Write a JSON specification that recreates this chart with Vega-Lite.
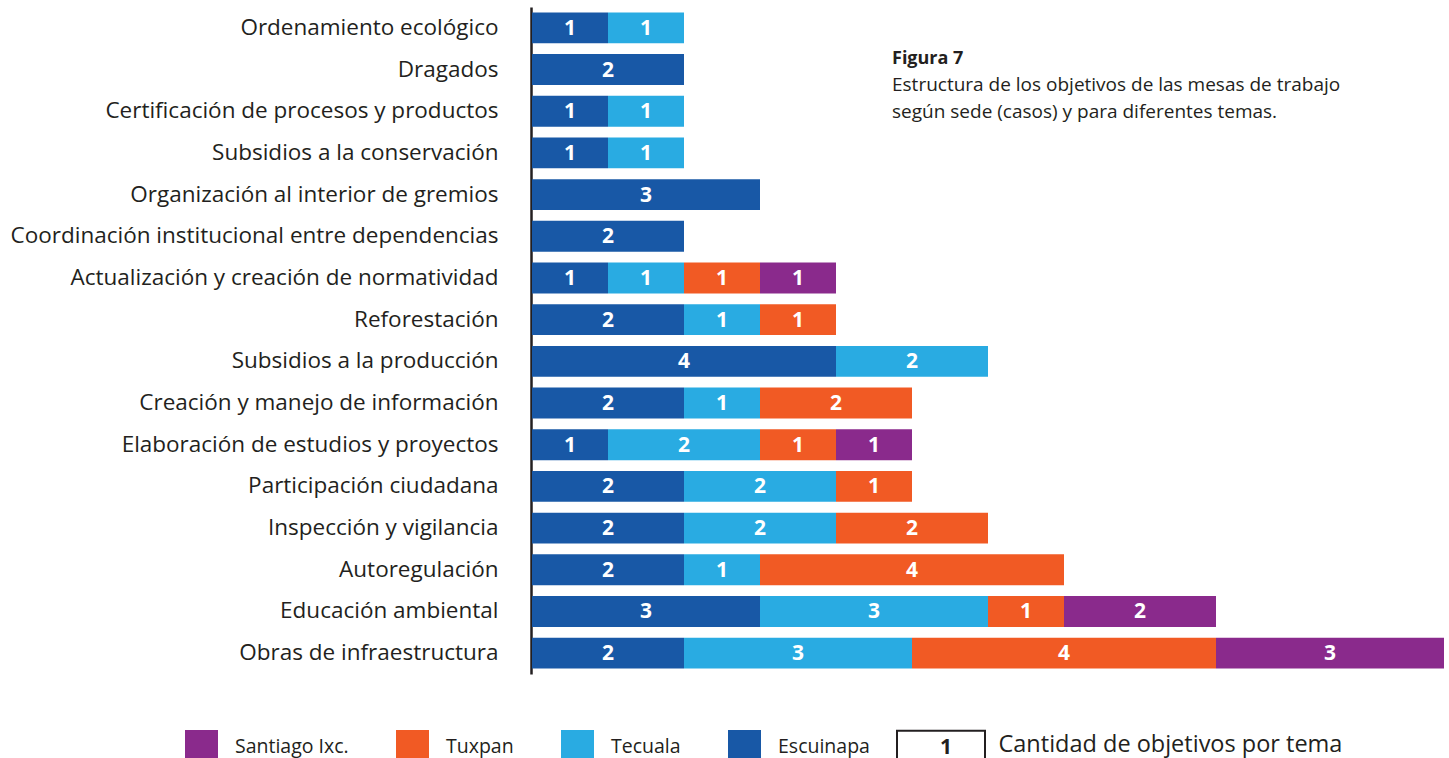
{
  "$schema": "https://vega.github.io/schema/vega-lite/v6.json",
  "width": 912,
  "height": 667,
  "autosize": "none",
  "padding": {"left": 532, "top": 7, "right": 5, "bottom": 84},
  "background": "white",
  "config": {"view": {"stroke": null}, "font": "Open Sans"},
  "title": {
    "text": "Figura 7",
    "subtitle": ["Estructura de los objetivos de las mesas de trabajo", "según sede (casos) y para diferentes temas."],
    "anchor": "start",
    "frame": "group",
    "orient": "top",
    "dx": 360,
    "dy": 119,
    "font": "Open Sans",
    "fontSize": 18,
    "fontWeight": "bold",
    "color": "#231f20",
    "subtitleFont": "Open Sans",
    "subtitleFontSize": 19,
    "subtitleColor": "#231f20",
    "subtitleLineHeight": 27,
    "subtitlePadding": 8
  },
  "layer": [
    {
      "data": {
        "values": [
          {"tema": "Ordenamiento ecológico", "sede": "Escuinapa", "orden": 1, "casos": 1},
          {"tema": "Ordenamiento ecológico", "sede": "Tecuala", "orden": 2, "casos": 1},
          {"tema": "Dragados", "sede": "Escuinapa", "orden": 1, "casos": 2},
          {"tema": "Certificación de procesos y productos", "sede": "Escuinapa", "orden": 1, "casos": 1},
          {"tema": "Certificación de procesos y productos", "sede": "Tecuala", "orden": 2, "casos": 1},
          {"tema": "Subsidios a la conservación", "sede": "Escuinapa", "orden": 1, "casos": 1},
          {"tema": "Subsidios a la conservación", "sede": "Tecuala", "orden": 2, "casos": 1},
          {"tema": "Organización al interior de gremios", "sede": "Escuinapa", "orden": 1, "casos": 3},
          {"tema": "Coordinación institucional entre dependencias", "sede": "Escuinapa", "orden": 1, "casos": 2},
          {"tema": "Actualización y creación de normatividad", "sede": "Escuinapa", "orden": 1, "casos": 1},
          {"tema": "Actualización y creación de normatividad", "sede": "Tecuala", "orden": 2, "casos": 1},
          {"tema": "Actualización y creación de normatividad", "sede": "Tuxpan", "orden": 3, "casos": 1},
          {"tema": "Actualización y creación de normatividad", "sede": "Santiago Ixc.", "orden": 4, "casos": 1},
          {"tema": "Reforestación", "sede": "Escuinapa", "orden": 1, "casos": 2},
          {"tema": "Reforestación", "sede": "Tecuala", "orden": 2, "casos": 1},
          {"tema": "Reforestación", "sede": "Tuxpan", "orden": 3, "casos": 1},
          {"tema": "Subsidios a la producción", "sede": "Escuinapa", "orden": 1, "casos": 4},
          {"tema": "Subsidios a la producción", "sede": "Tecuala", "orden": 2, "casos": 2},
          {"tema": "Creación y manejo de información", "sede": "Escuinapa", "orden": 1, "casos": 2},
          {"tema": "Creación y manejo de información", "sede": "Tecuala", "orden": 2, "casos": 1},
          {"tema": "Creación y manejo de información", "sede": "Tuxpan", "orden": 3, "casos": 2},
          {"tema": "Elaboración de estudios y proyectos", "sede": "Escuinapa", "orden": 1, "casos": 1},
          {"tema": "Elaboración de estudios y proyectos", "sede": "Tecuala", "orden": 2, "casos": 2},
          {"tema": "Elaboración de estudios y proyectos", "sede": "Tuxpan", "orden": 3, "casos": 1},
          {"tema": "Elaboración de estudios y proyectos", "sede": "Santiago Ixc.", "orden": 4, "casos": 1},
          {"tema": "Participación ciudadana", "sede": "Escuinapa", "orden": 1, "casos": 2},
          {"tema": "Participación ciudadana", "sede": "Tecuala", "orden": 2, "casos": 2},
          {"tema": "Participación ciudadana", "sede": "Tuxpan", "orden": 3, "casos": 1},
          {"tema": "Inspección y vigilancia", "sede": "Escuinapa", "orden": 1, "casos": 2},
          {"tema": "Inspección y vigilancia", "sede": "Tecuala", "orden": 2, "casos": 2},
          {"tema": "Inspección y vigilancia", "sede": "Tuxpan", "orden": 3, "casos": 2},
          {"tema": "Autoregulación", "sede": "Escuinapa", "orden": 1, "casos": 2},
          {"tema": "Autoregulación", "sede": "Tecuala", "orden": 2, "casos": 1},
          {"tema": "Autoregulación", "sede": "Tuxpan", "orden": 3, "casos": 4},
          {"tema": "Educación ambiental", "sede": "Escuinapa", "orden": 1, "casos": 3},
          {"tema": "Educación ambiental", "sede": "Tecuala", "orden": 2, "casos": 3},
          {"tema": "Educación ambiental", "sede": "Tuxpan", "orden": 3, "casos": 1},
          {"tema": "Educación ambiental", "sede": "Santiago Ixc.", "orden": 4, "casos": 2},
          {"tema": "Obras de infraestructura", "sede": "Escuinapa", "orden": 1, "casos": 2},
          {"tema": "Obras de infraestructura", "sede": "Tecuala", "orden": 2, "casos": 3},
          {"tema": "Obras de infraestructura", "sede": "Tuxpan", "orden": 3, "casos": 4},
          {"tema": "Obras de infraestructura", "sede": "Santiago Ixc.", "orden": 4, "casos": 3}
        ]
      },
      "layer": [
        {
          "mark": {"type": "bar"},
          "encoding": {
            "y": {
              "field": "tema", "type": "nominal", "sort": null,
              "scale": {"paddingInner": 0.26, "paddingOuter": 0.13},
              "axis": {
                "title": null, "ticks": false, "domainColor": "#231f20", "domainWidth": 2.5,
                "offset": 1, "labelPadding": 33, "labelFontSize": 22.5, "labelFont": "Open Sans",
                "labelColor": "#231f20", "labelLimit": 700
              }
            },
            "x": {"field": "casos", "type": "quantitative", "stack": "zero", "scale": {"domain": [0, 12]}, "axis": null},
            "color": {
              "field": "sede", "type": "nominal",
              "scale": {"domain": ["Santiago Ixc.", "Tuxpan", "Tecuala", "Escuinapa"], "range": ["#8A2A8C", "#F15A24", "#29ABE2", "#1858A6"]},
              "legend": {
                "orient": "none", "legendX": -347, "legendY": 723, "direction": "horizontal", "title": null,
                "symbolType": "square", "symbolSize": 1089, "symbolStrokeWidth": 0, "labelOffset": 17,
                "labelFontSize": 19.5, "labelFont": "Open Sans", "labelColor": "#231f20", "columnPadding": 47, "padding": 0
              }
            },
            "order": {"field": "orden", "type": "quantitative"}
          }
        },
        {
          "mark": {"type": "text", "color": "white", "fontWeight": "bold", "fontSize": 21, "font": "Open Sans", "baseline": "middle", "dy": 1},
          "encoding": {
            "y": {"field": "tema", "type": "nominal", "sort": null},
            "x": {"field": "casos", "type": "quantitative", "stack": "zero", "bandPosition": 0.5},
            "detail": {"field": "sede"},
            "order": {"field": "orden", "type": "quantitative"},
            "text": {"field": "casos", "type": "quantitative"}
          }
        }
      ]
    },
    {
      "data": {"values": [{"caja": "1", "nota": "Cantidad de objetivos por tema"}]},
      "mark": {"type": "point", "size": 0, "filled": false, "fill": "white", "strokeWidth": 2},
      "encoding": {
        "stroke": {
          "field": "caja", "type": "nominal",
          "scale": {"range": ["#231f20"]},
          "legend": {
            "orient": "none", "legendX": 364, "legendY": 696, "title": null,
            "symbolType": "M-1,-0.39H1V0.39H-1Z",
            "symbolSize": 7744, "symbolFillColor": "white", "symbolStrokeWidth": 2,
            "symbolOpacity": 1, "labelFontSize": 21, "labelFontWeight": "bold", "labelAlign": "center",
            "labelOffset": -40, "labelColor": "#231f20", "labelFont": "Open Sans", "padding": 0
          }
        },
        "shape": {
          "field": "nota", "type": "nominal",
          "legend": {
            "orient": "none", "legendX": 443, "legendY": 726, "title": null,
            "symbolSize": 0, "symbolOpacity": 0, "labelOffset": 0, "labelFontSize": 23.5,
            "labelColor": "#231f20", "labelFont": "Open Sans", "padding": 0, "labelLimit": 600
          }
        }
      }
    }
  ]
}
